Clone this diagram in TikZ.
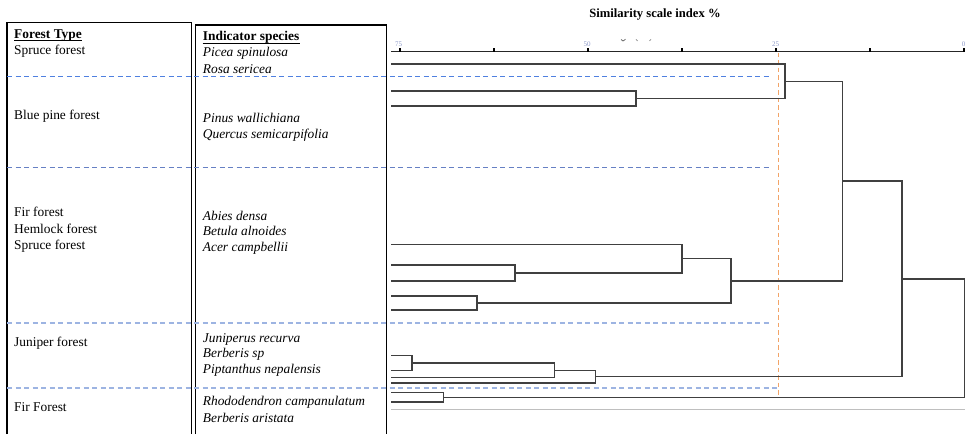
\documentclass[tikz,border=0pt]{standalone}
\usepackage{fontspec}
\setmainfont{Liberation Serif}
\definecolor{sepA}{HTML}{4F80E0}
\definecolor{sepB}{HTML}{6680C4}
\definecolor{sepC}{HTML}{9DB4E2}
\definecolor{cutO}{HTML}{F2A468}
\definecolor{axl}{HTML}{8C98C8}
\begin{document}
\begin{tikzpicture}[x=1pt,y=-1pt,
  txt/.style={anchor=west,inner sep=0pt,text height=9.2pt,text depth=2.9pt,font=\fontsize{13.4}{16}\selectfont},
  itx/.style={txt,font=\fontsize{13.4}{16}\selectfont\itshape},
  hdr/.style={txt,font=\fontsize{13.4}{16}\selectfont\bfseries},
  ttl/.style={inner sep=0pt,font=\fontsize{12.6}{15}\selectfont\bfseries},
  axlab/.style={inner sep=0pt,text=axl,font=\fontsize{7}{8}\selectfont},
  dend/.style={line width=1.5pt,black!75,line join=miter},
  frame/.style={line width=1.2pt,black},
  sepline/.style={dash pattern=on 5pt off 3.5pt,line width=1pt},
  tickmark/.style={line width=1.3pt,black}]
\useasboundingbox (0,0) rectangle (965,434);

% column frames
\coordinate (A1) at (7,434); \coordinate (A2) at (7,22.7);
\coordinate (A3) at (191.5,22.7); \coordinate (A4) at (191.5,434);
\draw[frame] (A1) -- (A2) -- (A3) -- (A4);
\coordinate (B1) at (195.3,434); \coordinate (B2) at (195.3,25);
\coordinate (B3) at (386.7,25); \coordinate (B4) at (386.7,434);
\draw[frame] (B1) -- (B2) -- (B3) -- (B4);

% headers
\node[hdr] (ft) at (14,35) {Forest Type};
\draw[line width=0.9pt] ([yshift=-2.6pt]ft.base west) -- ([yshift=-2.6pt]ft.base east);
\node[hdr] (is) at (202.7,37.3) {Indicator species};
\draw[line width=0.9pt] ([yshift=-2.6pt]is.base west) -- ([yshift=-2.6pt]is.base east);

% forest types
\node[txt] (f1) at (14,51.7) {Spruce forest};
\node[txt] (f2) at (14,116.7) {Blue pine forest};
\node[txt] (f3) at (14,213.3) {Fir forest};
\node[txt] (f4) at (14,230) {Hemlock forest};
\node[txt] (f5) at (14,246.7) {Spruce forest};
\node[txt] (f6) at (14,343.3) {Juniper forest};
\node[txt] (f7) at (14,408.3) {Fir Forest};

% indicator species
\node[itx] (s1) at (202.7,53.3) {Picea spinulosa};
\node[itx] (s2) at (202.7,70.7) {Rosa sericea};
\node[itx] (s3) at (202.7,119) {Pinus wallichiana};
\node[itx] (s4) at (202.7,135.7) {Quercus semicarpifolia};
\node[itx] (s5) at (202.7,217.3) {Abies densa};
\node[itx] (s6) at (202.7,232.7) {Betula alnoides};
\node[itx] (s7) at (202.7,248.3) {Acer campbellii};
\node[itx] (s8) at (202.7,339) {Juniperus recurva};
\node[itx] (s9) at (202.7,354.3) {Berberis sp};
\node[itx] (s10) at (202.7,370) {Piptanthus nepalensis};
\node[itx] (s11) at (202.7,402.7) {Rhododendron campanulatum};
\node[itx] (s12) at (202.7,419.3) {Berberis aristata};

% title and axis
\node[ttl] (title) at (655,14) {Similarity scale index \%};
\coordinate (ax0) at (391,51.7); \coordinate (ax1) at (965,51.7);
\draw[line width=1.5pt,black!85] (ax0) -- (ax1);
\foreach \k in {0,...,6} {
  \coordinate (t\k) at (400+94*\k,51.7);
  \draw[tickmark] (t\k) -- ++(0,-3.5);
}
\node[axlab] (l75) at (398.5,44) {75};
\node[axlab] (l50) at (587,44) {50};
\node[axlab] (l25) at (775.5,44) {25};
\node[axlab,anchor=east] (l0) at (965.5,44) {0};
% faint marks above the axis
\draw[black!60,line width=0.8pt] (621,39.5) -- (623,41) -- (625.5,39.3);
\draw[black!45,line width=0.7pt] (636,39.3) -- (637.5,41);
\draw[black!45,line width=0.7pt] (649.5,41) -- (651,39.3);

% separators
\coordinate (d1a) at (7,76.3);  \coordinate (d1b) at (771.5,76.3);
\coordinate (d2a) at (7,167);   \coordinate (d2b) at (771.5,167);
\coordinate (d3a) at (7,323);   \coordinate (d3b) at (771.5,323);
\coordinate (d4a) at (7,388);   \coordinate (d4b) at (779,388);
\draw[sepline,sepA,line width=1.1pt] (d1a) -- (d1b);
\draw[sepline,sepB,line width=1pt] (d2a) -- (d2b);
\draw[sepline,sepC,line width=1.4pt] (d3a) -- (d3b);
\draw[sepline,sepC,line width=1.4pt] (d4a) -- (d4b);

% cut line
\coordinate (o1) at (778.2,52.5); \coordinate (o2) at (778.2,397);
\draw[cutO,line width=1.2pt,dash pattern=on 4.5pt off 3pt] (o1) -- (o2);

% baseline of dendrogram area
\coordinate (g1) at (391,409.3); \coordinate (g2) at (965,409.3);
\draw[black!25,line width=0.9pt] (g1) -- (g2);

% leaves
\coordinate (L1) at (391,64);
\coordinate (L2) at (391,91);
\coordinate (L3) at (391,106);
\coordinate (L4) at (391,244.3);
\coordinate (L5) at (391,265);
\coordinate (L6) at (391,281);
\coordinate (L7) at (391,296);
\coordinate (L8) at (391,310);
\coordinate (L9) at (391,355.7);
\coordinate (L10) at (391,370.7);
\coordinate (L11) at (391,377.7);
\coordinate (L12) at (391,383);
\coordinate (L13) at (391,392.7);
\coordinate (L14) at (391,402);

% joins
\coordinate (J1) at (636,98.5);
\coordinate (J2) at (785,81.25);
\coordinate (J4) at (515,273);
\coordinate (J5) at (682,258.65);
\coordinate (J7) at (477,303);
\coordinate (J6) at (731,280.8);
\coordinate (J3) at (842.5,181);
\coordinate (J8) at (412,363.2);
\coordinate (J9) at (554.5,370.45);
\coordinate (J10) at (595.5,376.7);
\coordinate (J11) at (902,278.85);
\coordinate (J12) at (443.5,397.35);
\coordinate (R) at (964.6,338.1);

\draw[dend] (L2) -| (J1) |- (L3);
\draw[dend] (L1) -| (J2) |- (J1);
\draw[dend] (L5) -| (J4) |- (L6);
\draw[dend] (L4) -| (J5) |- (J4);
\draw[dend] (L7) -| (J7) |- (L8);
\draw[dend] (J5) -| (J6) |- (J7);
\draw[dend] (J2) -| (J3) |- (J6);
\draw[dend] (L9) -| (J8) |- (L10);
\draw[dend] (J8) -| (J9) |- (L11);
\draw[dend] (J9) -| (J10) |- (L12);
\draw[dend] (J3) -| (J11) |- (J10);
\draw[dend] (L13) -| (J12) |- (L14);
\draw[dend] (J11) -| (R) |- (J12);
\end{tikzpicture}
\end{document}
